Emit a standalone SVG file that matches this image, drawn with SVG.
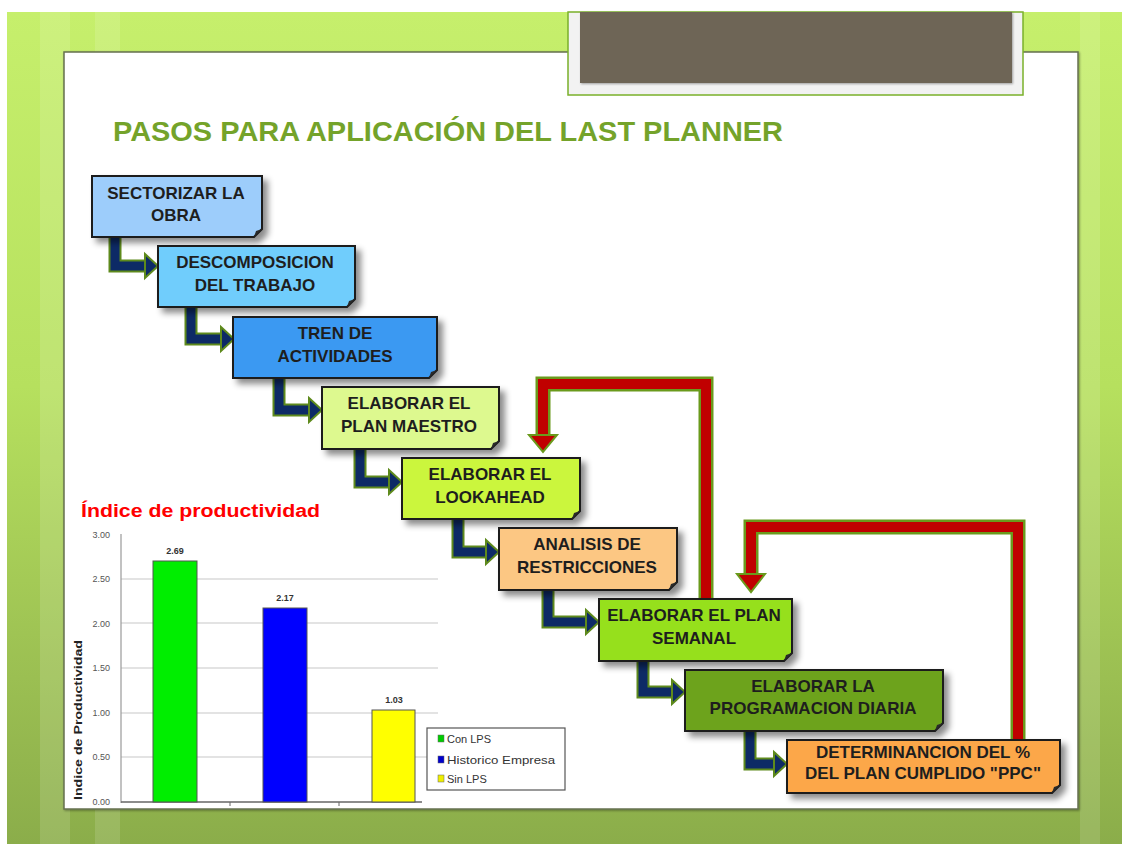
<svg xmlns="http://www.w3.org/2000/svg" width="1122" height="844" viewBox="0 0 1122 844">
<defs>
<linearGradient id="bg" x1="0" y1="0" x2="0" y2="1">
<stop offset="0" stop-color="#c6ef6c"/>
<stop offset="0.45" stop-color="#b6e05e"/>
<stop offset="0.8" stop-color="#9bbf52"/>
<stop offset="1" stop-color="#8bad4a"/>
</linearGradient>
<filter id="sh" x="-10%" y="-20%" width="130%" height="150%">
<feDropShadow dx="5" dy="5" stdDeviation="3" flood-color="#000" flood-opacity="0.45"/>
</filter>
<filter id="psh" x="-5%" y="-5%" width="110%" height="110%">
<feDropShadow dx="1" dy="1" stdDeviation="1" flood-color="#000" flood-opacity="0.35"/>
</filter>
<style>
.box{stroke:#1a1a1a;stroke-width:2;filter:url(#sh)}
.curl{fill:#2a2a2a}
.lbl{font-family:"Liberation Sans",Arial,sans-serif;font-weight:bold;font-size:17px;fill:#1e1e1e;text-anchor:middle}
.bo{fill:none;stroke:#5e8a1c;stroke-width:13;stroke-linejoin:miter}
.bi{fill:none;stroke:#0d2a66;stroke-width:9;stroke-linejoin:miter}
.bh{fill:#0d2a66;stroke:#5e8a1c;stroke-width:2}
.ro{fill:none;stroke:#6a9a1c;stroke-width:15;stroke-linejoin:miter}
.ri{fill:none;stroke:#c00000;stroke-width:10;stroke-linejoin:miter}
.rh{fill:#c00000;stroke:#6a9a1c;stroke-width:2}
.tick{font-family:"Liberation Sans",Arial,sans-serif;font-size:9px;fill:#555;text-anchor:end}
.val{font-family:"Liberation Sans",Arial,sans-serif;font-size:9px;font-weight:bold;fill:#333;text-anchor:middle}
.leg{font-family:"Liberation Sans",Arial,sans-serif;font-size:11px;fill:#333}
.grid{stroke:#c8c8c8;stroke-width:1.2}
</style>
</defs>

<!-- background -->
<rect x="0" y="0" width="1122" height="844" fill="#ffffff"/>
<rect x="7" y="12" width="1115" height="832" fill="url(#bg)"/>
<g opacity="0.12" fill="#ffffff">
<rect x="40" y="12" width="30" height="832"/>
<rect x="95" y="12" width="25" height="832"/>
<rect x="1080" y="12" width="20" height="832"/>
</g>

<!-- slide panel -->
<rect x="64" y="52" width="1014" height="757" fill="#ffffff" stroke="#66704f" stroke-width="1.5" filter="url(#psh)"/>

<!-- top brown box -->
<rect x="568" y="12" width="455" height="83" fill="#f2f2f2" stroke="#7ab02a" stroke-width="1.5"/>
<rect x="580" y="12" width="432" height="71" fill="#6e6556" filter="url(#psh)"/>

<!-- title -->
<text x="113" y="141" font-family="'Liberation Sans',Arial,sans-serif" font-weight="bold" font-size="28" fill="#74a32a" textLength="670" lengthAdjust="spacingAndGlyphs">PASOS PARA APLICACIÓN DEL LAST PLANNER</text>

<!-- chart -->
<g id="chart">
<text x="81" y="517" font-family="'Liberation Sans',Arial,sans-serif" font-weight="bold" font-size="18" fill="#ff0000" textLength="239" lengthAdjust="spacingAndGlyphs">Índice de productividad</text>
<line class="grid" x1="121" y1="579" x2="438" y2="579"/>
<line class="grid" x1="121" y1="623" x2="438" y2="623"/>
<line class="grid" x1="121" y1="668" x2="438" y2="668"/>
<line class="grid" x1="121" y1="713" x2="438" y2="713"/>
<line class="grid" x1="121" y1="757" x2="438" y2="757"/>
<line x1="121" y1="534" x2="121" y2="803" stroke="#999" stroke-width="1.2"/>
<line x1="121" y1="802" x2="422" y2="802" stroke="#666" stroke-width="1.5"/>
<line x1="230" y1="802" x2="230" y2="806" stroke="#666"/>
<line x1="339" y1="802" x2="339" y2="806" stroke="#666"/>
<text class="tick" x="110" y="538">3.00</text>
<text class="tick" x="110" y="582">2.50</text>
<text class="tick" x="110" y="627">2.00</text>
<text class="tick" x="110" y="671">1.50</text>
<text class="tick" x="110" y="716">1.00</text>
<text class="tick" x="110" y="760">0.50</text>
<text class="tick" x="110" y="805">0.00</text>
<text x="82" y="720" transform="rotate(-90 82 720)" text-anchor="middle" font-family="'Liberation Sans',Arial,sans-serif" font-weight="bold" font-size="11" fill="#222" textLength="160" lengthAdjust="spacingAndGlyphs">Indice de Productividad</text>
<rect x="153" y="561" width="44" height="241" fill="#00ee00" stroke="#555" stroke-width="1"/>
<rect x="263" y="608" width="44" height="194" fill="#0000ff" stroke="#555" stroke-width="1"/>
<rect x="372" y="710" width="43" height="92" fill="#ffff00" stroke="#555" stroke-width="1"/>
<text class="val" x="175" y="554">2.69</text>
<text class="val" x="285" y="601">2.17</text>
<text class="val" x="394" y="703">1.03</text>
<rect x="427" y="728" width="138" height="62" fill="#ffffff" stroke="#555" stroke-width="1.2"/>
<rect x="438" y="735" width="6" height="7" fill="#00cc00" stroke="#666" stroke-width="0.5"/>
<rect x="438" y="756" width="6" height="7" fill="#0000cc" stroke="#666" stroke-width="0.5"/>
<rect x="438" y="775" width="6" height="7" fill="#eeee00" stroke="#666" stroke-width="0.5"/>
<text class="leg" x="447" y="743">Con LPS</text>
<text class="leg" x="447" y="764" textLength="108" lengthAdjust="spacingAndGlyphs">Historico Empresa</text>
<text class="leg" x="447" y="783">Sin LPS</text>
</g>

<!-- connectors -->
<g id="connectors">
<g id="c1"><path class="bo" d="M115 237 V266 H146"/><path class="bi" d="M115 237 V266 H146"/><polygon class="bh" points="145,254 158,266 145,278"/></g>
<g id="c2"><path class="bo" d="M191 307 V339 H222"/><path class="bi" d="M191 307 V339 H222"/><polygon class="bh" points="221,327 234,339 221,351"/></g>
<g id="c3"><path class="bo" d="M279 378 V410 H310"/><path class="bi" d="M279 378 V410 H310"/><polygon class="bh" points="309,398 322,410 309,422"/></g>
<g id="c4"><path class="bo" d="M360 449 V482 H390"/><path class="bi" d="M360 449 V482 H390"/><polygon class="bh" points="389,470 402,482 389,494"/></g>
<g id="c5"><path class="bo" d="M458 519 V552 H487"/><path class="bi" d="M458 519 V552 H487"/><polygon class="bh" points="486,540 499,552 486,564"/></g>
<g id="c6"><path class="bo" d="M548 590 V622 H587"/><path class="bi" d="M548 590 V622 H587"/><polygon class="bh" points="586,610 599,622 586,634"/></g>
<g id="c7"><path class="bo" d="M643 661 V692 H673"/><path class="bi" d="M643 661 V692 H673"/><polygon class="bh" points="672,680 685,692 672,704"/></g>
<g id="c8"><path class="bo" d="M750 731 V764 H775"/><path class="bi" d="M750 731 V764 H775"/><polygon class="bh" points="774,752 787,764 774,776"/></g>
<g id="r1"><path class="ro" d="M706 599 V384 H543 V436"/><path class="ri" d="M706 599 V384 H543 V436"/><polygon class="rh" points="529,435 557,435 543,452"/></g>
<g id="r2"><path class="ro" d="M1018 740 V527 H751 V575"/><path class="ri" d="M1018 740 V527 H751 V575"/><polygon class="rh" points="737,574 765,574 751,592"/></g>
</g>

<!-- nodes -->
<g id="n1"><path class="box" fill="#9dcdfb" d="M92 176 H262 V229 L254 237 H92 Z"/><path class="curl" d="M262 229 L254 237 L256 231 Z"/><text class="lbl" x="176" y="199">SECTORIZAR LA</text><text class="lbl" x="176" y="221">OBRA</text></g>
<g id="n2"><path class="box" fill="#70cdfc" d="M158 246 H355 V299 L347 307 H158 Z"/><path class="curl" d="M355 299 L347 307 L349 301 Z"/><text class="lbl" x="255" y="268">DESCOMPOSICION</text><text class="lbl" x="255" y="291">DEL TRABAJO</text></g>
<g id="n3"><path class="box" fill="#3b99f2" d="M233 317 H437 V370 L429 378 H233 Z"/><path class="curl" d="M437 370 L429 378 L431 372 Z"/><text class="lbl" x="335" y="339">TREN DE</text><text class="lbl" x="335" y="362">ACTIVIDADES</text></g>
<g id="n4"><path class="box" fill="#ddf98f" d="M322 387 H499 V441 L491 449 H322 Z"/><path class="curl" d="M499 441 L491 449 L493 443 Z"/><text class="lbl" x="409" y="409">ELABORAR EL</text><text class="lbl" x="409" y="432">PLAN MAESTRO</text></g>
<g id="n5"><path class="box" fill="#cbf63d" d="M402 458 H580 V511 L572 519 H402 Z"/><path class="curl" d="M580 511 L572 519 L574 513 Z"/><text class="lbl" x="490" y="480">ELABORAR EL</text><text class="lbl" x="490" y="503">LOOKAHEAD</text></g>
<g id="n6"><path class="box" fill="#fcc783" d="M499 528 H677 V582 L669 590 H499 Z"/><path class="curl" d="M677 582 L669 590 L671 584 Z"/><text class="lbl" x="587" y="550">ANALISIS DE</text><text class="lbl" x="587" y="573">RESTRICCIONES</text></g>
<g id="n7"><path class="box" fill="#96e01e" d="M599 599 H792 V653 L784 661 H599 Z"/><path class="curl" d="M792 653 L784 661 L786 655 Z"/><text class="lbl" x="694" y="621">ELABORAR EL PLAN</text><text class="lbl" x="694" y="644">SEMANAL</text></g>
<g id="n8"><path class="box" fill="#6da31e" d="M685 670 H943 V723 L935 731 H685 Z"/><path class="curl" d="M943 723 L935 731 L937 725 Z"/><text class="lbl" x="813" y="692">ELABORAR LA</text><text class="lbl" x="813" y="714">PROGRAMACION DIARIA</text></g>
<g id="n9"><path class="box" fill="#fca748" d="M787 740 H1060 V785 L1052 793 H787 Z"/><path class="curl" d="M1060 785 L1052 793 L1054 787 Z"/><text class="lbl" x="923" y="758">DETERMINANCION DEL %</text><text class="lbl" x="923" y="779">DEL PLAN CUMPLIDO "PPC"</text></g>
</svg>
